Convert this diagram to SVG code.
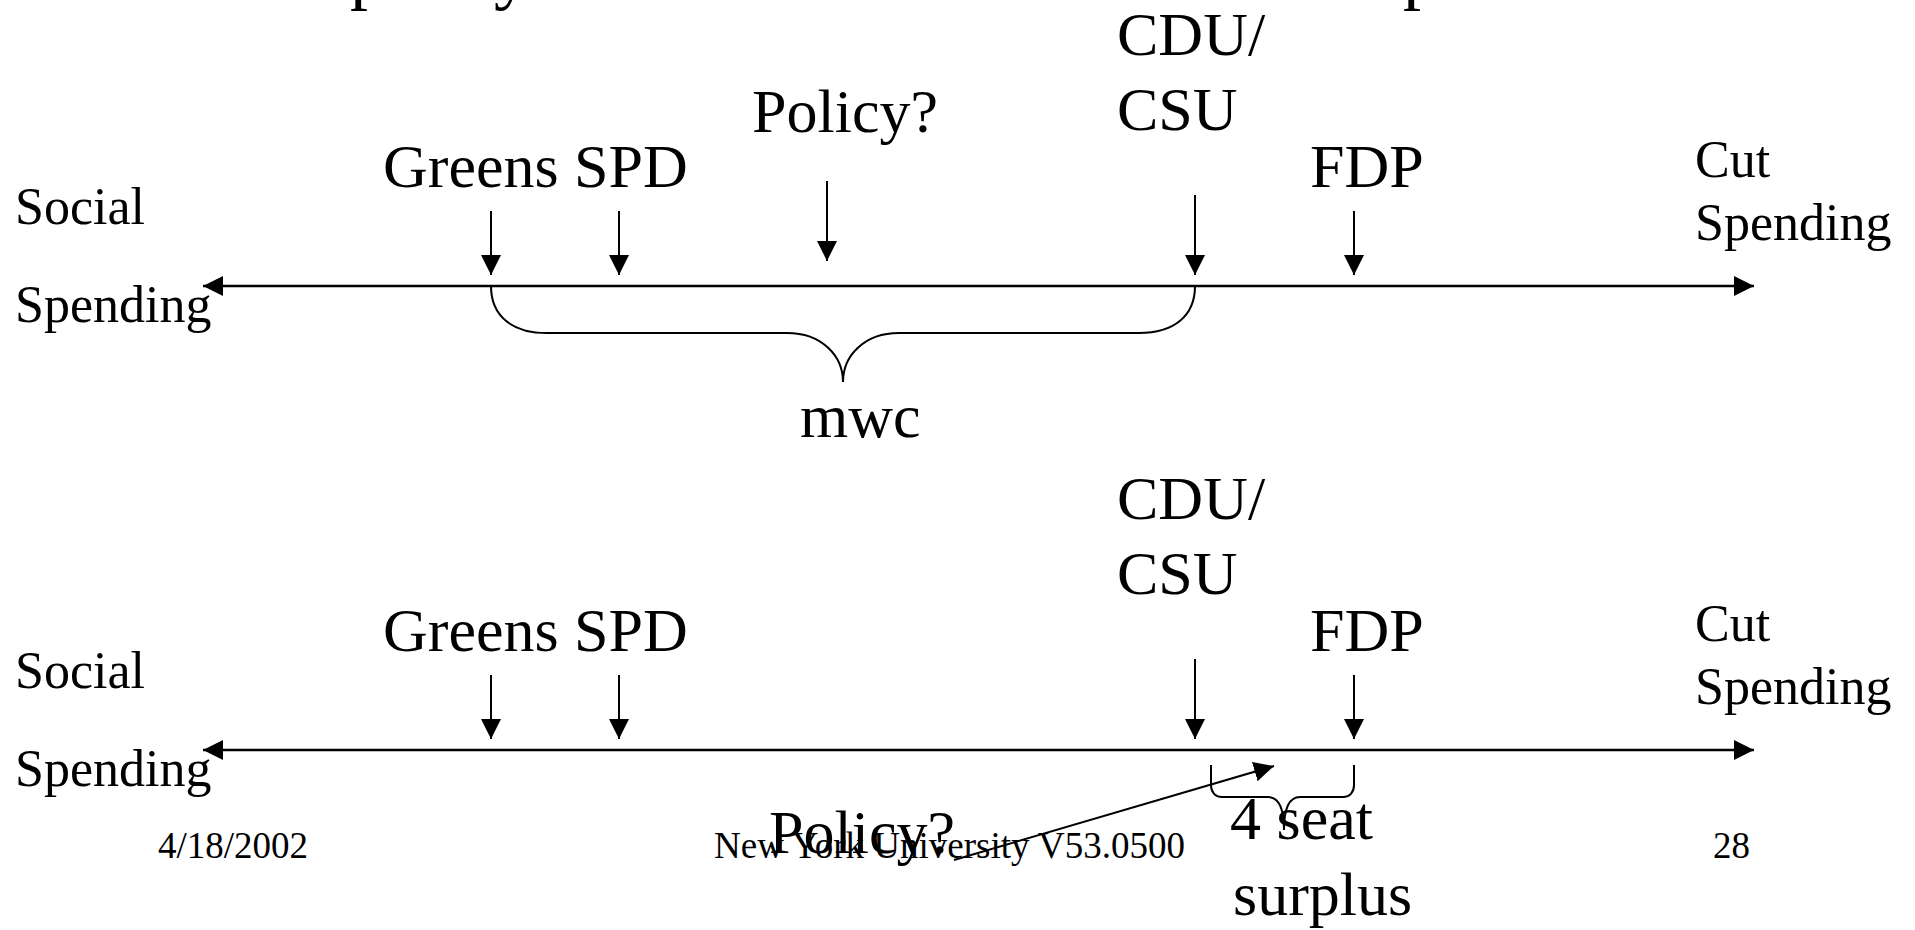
<svg xmlns="http://www.w3.org/2000/svg" width="1915" height="930" viewBox="0 0 1915 930">
<style>
text{font-family:"Liberation Serif","Times New Roman",serif;fill:#000}
.big{font-size:62px}
.mid{font-size:52px}
.small{font-size:37px}
.title{font-size:72px}
.ln{stroke:#000;stroke-width:2;fill:none}
.ax{stroke:#000;stroke-width:2.5;fill:none}
</style>
<defs>
<marker id="ah" markerUnits="userSpaceOnUse" markerWidth="20" markerHeight="20" refX="20" refY="10" orient="auto-start-reverse">
<path d="M0,0 L20,10 L0,20 Z" fill="#000"/>
</marker>
</defs>
<rect width="1915" height="930" fill="#fff"/>
<g id="title">
<text class="title" x="350" y="-4">policy</text>
<text class="title" x="1403" y="-4">p</text>
</g>
<g id="connectors">
<line class="ax" x1="203" y1="286" x2="1754" y2="286" marker-start="url(#ah)" marker-end="url(#ah)"/>
<line class="ln" x1="491" y1="211" x2="491" y2="275" marker-end="url(#ah)"/>
<line class="ln" x1="619" y1="211" x2="619" y2="275" marker-end="url(#ah)"/>
<line class="ln" x1="827" y1="181" x2="827" y2="261" marker-end="url(#ah)"/>
<line class="ln" x1="1195" y1="195" x2="1195" y2="275" marker-end="url(#ah)"/>
<line class="ln" x1="1354" y1="211" x2="1354" y2="275" marker-end="url(#ah)"/>
<path class="ln" d="M491,286 C491,316 512,333 547,333 L787,333 C822,333 843,356 843,382 C843,356 864,333 899,333 L1139,333 C1174,333 1195,316 1195,286"/>
<line class="ax" x1="203" y1="750" x2="1754" y2="750" marker-start="url(#ah)" marker-end="url(#ah)"/>
<line class="ln" x1="491" y1="675" x2="491" y2="739" marker-end="url(#ah)"/>
<line class="ln" x1="619" y1="675" x2="619" y2="739" marker-end="url(#ah)"/>
<line class="ln" x1="1195" y1="659" x2="1195" y2="739" marker-end="url(#ah)"/>
<line class="ln" x1="1354" y1="675" x2="1354" y2="739" marker-end="url(#ah)"/>
<path class="ln" d="M1211,765 L1211,785 C1211,792 1215,797 1222,797 L1268,797 C1278,797 1284,808 1284,830 C1284,808 1290,797 1300,797 L1343,797 C1350,797 1354,792 1354,785 L1354,765"/>
<line class="ln" x1="954" y1="860" x2="1274" y2="766" marker-end="url(#ah)"/>
</g>
<g id="top-left-label"><text class="mid" x="15" y="224">Social</text><text class="mid" x="15" y="322">Spending</text></g>
<g id="top-right-label"><text class="mid" x="1695" y="177">Cut</text><text class="mid" x="1695" y="240">Spending</text></g>
<g id="top-greens"><text class="big" x="383" y="187">Greens</text></g>
<g id="top-spd"><text class="big" x="574" y="187">SPD</text></g>
<g id="top-policy"><text class="big" x="752" y="132">Policy?</text></g>
<g id="top-cdu"><text class="big" x="1117" y="55">CDU/</text><text class="big" x="1117" y="130">CSU</text></g>
<g id="top-fdp"><text class="big" x="1310" y="187">FDP</text></g>
<g id="top-mwc"><text class="big" x="800" y="437">mwc</text></g>
<g id="bottom-left-label"><text class="mid" x="15" y="688">Social</text><text class="mid" x="15" y="786">Spending</text></g>
<g id="bottom-right-label"><text class="mid" x="1695" y="641">Cut</text><text class="mid" x="1695" y="704">Spending</text></g>
<g id="bottom-greens"><text class="big" x="383" y="651">Greens</text></g>
<g id="bottom-spd"><text class="big" x="574" y="651">SPD</text></g>
<g id="bottom-cdu"><text class="big" x="1117" y="519">CDU/</text><text class="big" x="1117" y="594">CSU</text></g>
<g id="bottom-fdp"><text class="big" x="1310" y="651">FDP</text></g>
<g id="bottom-surplus"><text class="big" x="1230" y="839">4 seat</text><text class="big" x="1233" y="915">surplus</text></g>
<g id="footer">
<text class="small" x="158" y="858">4/18/2002</text>
<text class="small" x="714" y="858">New York University V53.0500</text>
<text class="small" x="1713" y="858">28</text>
</g>
<g id="bottom-policy"><text class="big" x="769" y="853">Policy?</text></g>
</svg>
